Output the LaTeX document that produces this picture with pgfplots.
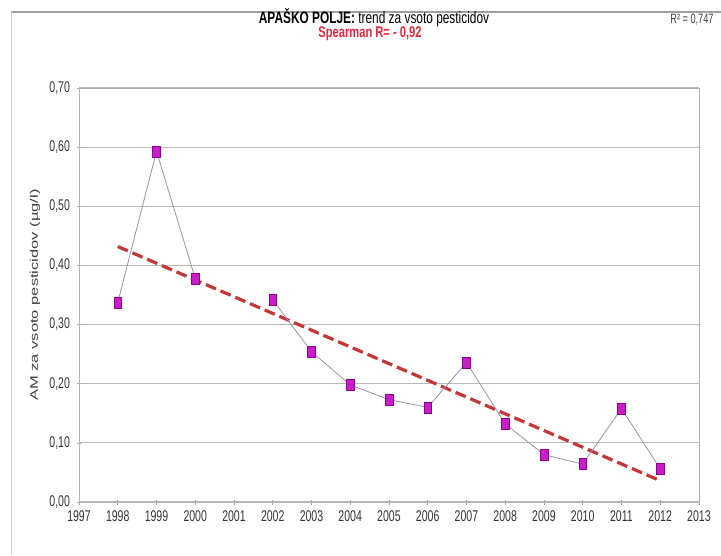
\documentclass[border=0pt]{standalone}
\usepackage{pgfplots}
\pgfplotsset{compat=1.18}
\usepackage{fontspec}
\setmainfont{Liberation Sans}[FakeStretch=0.68]
\newfontfamily\titlefont{Liberation Sans}[FakeStretch=0.72]
\newfontfamily\ylabfont{Liberation Sans}[FakeStretch=1.5]
\definecolor{mk}{RGB}{200,30,200}
\definecolor{mkd}{RGB}{140,0,140}
\definecolor{ln}{RGB}{150,145,175}
\definecolor{tr}{RGB}{195,55,55}
\definecolor{sp}{RGB}{225,40,60}
\begin{document}
\begin{tikzpicture}[x=1pt,y=1pt]
\useasboundingbox (0,0) rectangle (721,555);
\draw[gray!75, line width=2pt] (11,543) -- (721,543);
\draw[gray!40, line width=1pt] (11,543) -- (11,0);
\node[font=\titlefont\fontsize{16.5}{18}\selectfont] at (374,537) {\textbf{APAŠKO POLJE:} trend za vsoto pesticidov};
\node[font=\titlefont\fontsize{15.5}{18}\selectfont\bfseries, text=sp] at (370,521) {Spearman R= - 0,92};
\node[font=\fontsize{13.5}{15}\selectfont, text=black!75] at (692,535) {R² = 0,747};
\node[font=\ylabfont\fontsize{11}{13}\selectfont, text=black!75, rotate=90] at (35,260) {AM za vsoto pesticidov (µg/l)};
\begin{axis}[
  at={(79pt,53pt)}, anchor=south west,
  scale only axis, width=620pt, height=414pt,
  xmin=1997, xmax=2013, ymin=0, ymax=0.7,
  xtick={1997,...,2013},
  ytick={0,0.1,...,0.7},
  ymajorgrids, major grid style={gray!55, line width=1.2pt},
  axis line style={gray!60},
  tick style={gray!70, line width=0.6pt},
  tick align=center, major tick length=5pt,
  xtick pos=bottom, ytick pos=left,
  /pgf/number format/assume math mode=true,
  tick label style={font=\fontsize{15.5}{17}\selectfont, text=black!80},
  x tick label style={/pgf/number format/1000 sep={}, yshift=-3pt},
  y tick label style={/pgf/number format/use comma, /pgf/number format/fixed, /pgf/number format/fixed zerofill, /pgf/number format/precision=2, xshift=-3pt},
  unbounded coords=jump,
  clip=false,
]
\addplot[tr, line width=3.2pt, dash pattern=on 11pt off 5pt] coordinates {(1998,0.432) (2012,0.036)};
\addplot[ln, line width=0.8pt, mark=square*, mark size=5.5pt, mark options={fill=mk, draw=mkd, line width=0.5pt, xscale=0.7, solid}] coordinates {
(1998,0.337) (1999,0.593) (2000,0.378) (2001,nan) (2002,0.342) (2003,0.254) (2004,0.198) (2005,0.173) (2006,0.160) (2007,0.236) (2008,0.132) (2009,0.080) (2010,0.064) (2011,0.158) (2012,0.056)};
\end{axis}
\end{tikzpicture}
\end{document}
